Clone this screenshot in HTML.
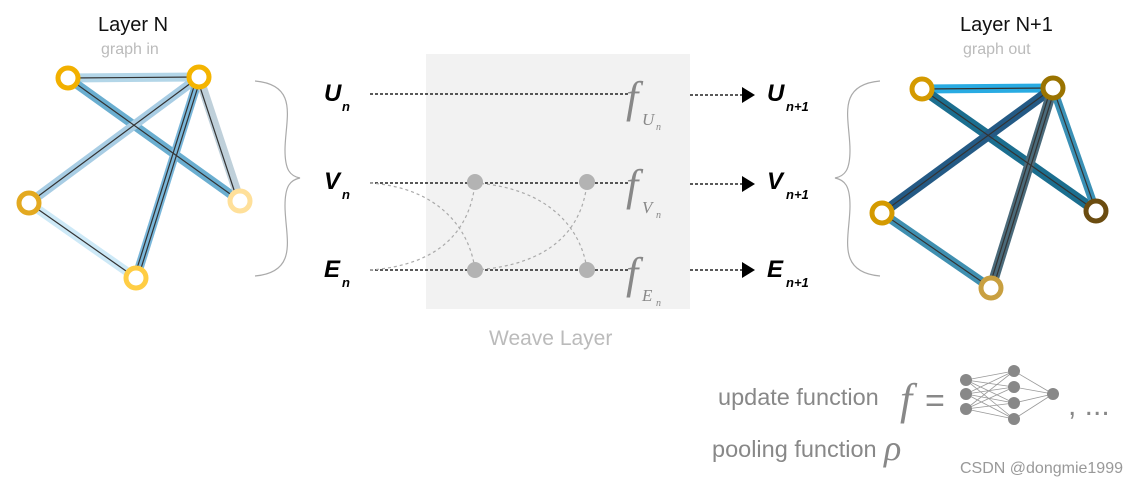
<!DOCTYPE html>
<html><head><meta charset="utf-8"><style>
html,body{margin:0;padding:0;background:#fff;}
svg{display:block;}
.s{font-family:"Liberation Sans",sans-serif;}
.m{font-family:"Liberation Serif","DejaVu Serif",serif;font-style:italic;}
</style></head><body>
<svg width="1142" height="486" viewBox="0 0 1142 486" xmlns="http://www.w3.org/2000/svg">
<!-- Left graph -->
<text class="s" x="98" y="31" font-size="20" fill="#111">Layer N</text>
<text class="s" x="101" y="54" font-size="16" fill="#bbb">graph in</text>
<g stroke-linecap="butt">
<line x1="68" y1="78" x2="199" y2="77" stroke="#b3d6e8" stroke-width="9"/>
<line x1="68" y1="78" x2="240" y2="201" stroke="#6aaed0" stroke-width="9"/>
<line x1="29" y1="203" x2="199" y2="77" stroke="#a8cde4" stroke-width="9"/>
<line x1="199" y1="77" x2="136" y2="278" stroke="#7ab7da" stroke-width="9"/>
<line x1="199" y1="77" x2="240" y2="201" stroke="#bfd0da" stroke-width="9"/>
<line x1="29" y1="203" x2="136" y2="278" stroke="#cde9f7" stroke-width="9"/>
</g>
<g stroke="#333" stroke-width="1.2">
<line x1="68" y1="78" x2="199" y2="77"/><line x1="68" y1="78" x2="240" y2="201"/>
<line x1="29" y1="203" x2="199" y2="77"/><line x1="197" y1="77" x2="134" y2="278"/><line x1="201" y1="77" x2="138" y2="278"/>
<line x1="197" y1="78" x2="238" y2="202"/><line x1="29" y1="203" x2="136" y2="278"/>
</g>
<g fill="#fff" stroke-width="5">
<circle cx="68" cy="78" r="10" stroke="#f2b000"/>
<circle cx="199" cy="77" r="10" stroke="#f4b400"/>
<circle cx="240" cy="201" r="10" stroke="#ffe09a"/>
<circle cx="29" cy="203" r="10" stroke="#e3a920"/>
<circle cx="136" cy="278" r="10" stroke="#ffcd44"/>
</g>
<path d="M255,81 C300,85 285,120 285,150 C285,170 290,176 300,178 C290,180 285,186 285,206 C285,236 300,272 255,276" fill="none" stroke="#aaa" stroke-width="1.2"/>

<!-- Weave layer -->
<rect x="426" y="54" width="264" height="255" fill="#f2f2f2"/>
<g stroke="#222" stroke-width="1.5" stroke-dasharray="3,2">
<line x1="370" y1="94" x2="628" y2="94"/>
<line x1="370" y1="183" x2="628" y2="183"/>
<line x1="370" y1="270" x2="628" y2="270"/>
<line x1="690" y1="95" x2="742" y2="95"/>
<line x1="690" y1="184" x2="742" y2="184"/>
<line x1="690" y1="270" x2="742" y2="270"/>
</g>
<g stroke="#aaa" stroke-width="1.2" stroke-dasharray="3,3" fill="none">
<path d="M370,183 C440,188 470,230 475,270"/>
<path d="M370,270 C440,265 470,230 475,183"/>
<path d="M475,183 C550,188 582,230 587,270"/>
<path d="M475,270 C550,265 582,230 587,183"/>
</g>
<g fill="#b3b3b3">
<circle cx="475" cy="182" r="8"/><circle cx="587" cy="182" r="8"/>
<circle cx="475" cy="270" r="8"/><circle cx="587" cy="270" r="8"/>
</g>
<g fill="#000">
<polygon points="742,87 755,95 742,103"/>
<polygon points="742,176 755,184 742,192"/>
<polygon points="742,262 755,270 742,278"/>
</g>
<g fill="#888">
<text class="m" x="626" y="112" font-size="44">f</text><text class="m" x="642" y="125" font-size="17">U</text><text class="m" x="656" y="130" font-size="10">n</text>
<text class="m" x="626" y="200" font-size="44">f</text><text class="m" x="642" y="213" font-size="17">V</text><text class="m" x="656" y="218" font-size="10">n</text>
<text class="m" x="626" y="288" font-size="44">f</text><text class="m" x="642" y="301" font-size="17">E</text><text class="m" x="656" y="306" font-size="10">n</text>
</g>
<g fill="#000">
<text class="s" font-weight="bold" font-style="italic" x="324" y="101" font-size="24">U</text><text class="s" font-weight="bold" font-style="italic" x="342" y="111" font-size="13">n</text>
<text class="s" font-weight="bold" font-style="italic" x="324" y="189" font-size="24">V</text><text class="s" font-weight="bold" font-style="italic" x="342" y="199" font-size="13">n</text>
<text class="s" font-weight="bold" font-style="italic" x="324" y="277" font-size="24">E</text><text class="s" font-weight="bold" font-style="italic" x="342" y="287" font-size="13">n</text>
<text class="s" font-weight="bold" font-style="italic" x="767" y="101" font-size="24">U</text><text class="s" font-weight="bold" font-style="italic" x="786" y="111" font-size="13">n+1</text>
<text class="s" font-weight="bold" font-style="italic" x="767" y="189" font-size="24">V</text><text class="s" font-weight="bold" font-style="italic" x="786" y="199" font-size="13">n+1</text>
<text class="s" font-weight="bold" font-style="italic" x="767" y="277" font-size="24">E</text><text class="s" font-weight="bold" font-style="italic" x="786" y="287" font-size="13">n+1</text>
</g>
<text class="s" x="489" y="345" font-size="21" fill="#bbb">Weave Layer</text>

<!-- Right graph -->
<text class="s" x="960" y="31" font-size="20" fill="#111">Layer N+1</text>
<text class="s" x="963" y="54" font-size="16" fill="#bbb">graph out</text>
<path d="M880,81 C835,85 850,120 850,150 C850,170 845,176 835,178 C845,180 850,186 850,206 C850,236 835,272 880,276" fill="none" stroke="#aaa" stroke-width="1.2"/>
<g>
<line x1="922" y1="89" x2="1053" y2="88" stroke="#29abe2" stroke-width="9"/>
<line x1="922" y1="89" x2="1096" y2="211" stroke="#1b6e8f" stroke-width="10"/>
<line x1="882" y1="213" x2="1053" y2="88" stroke="#245a85" stroke-width="10"/>
<line x1="1053" y1="88" x2="991" y2="288" stroke="#4a6a7a" stroke-width="10"/>
<line x1="1053" y1="88" x2="1096" y2="211" stroke="#3a90b5" stroke-width="8"/>
<line x1="882" y1="213" x2="991" y2="288" stroke="#3f8fb0" stroke-width="9"/>
</g>
<g stroke="#333" stroke-width="1.2">
<line x1="922" y1="89" x2="1053" y2="88"/><line x1="922" y1="89" x2="1096" y2="211"/>
<line x1="882" y1="213" x2="1053" y2="88"/><line x1="1051" y1="88" x2="989" y2="288"/><line x1="1055" y1="88" x2="993" y2="288"/>
<line x1="1053" y1="88" x2="1096" y2="211"/><line x1="882" y1="213" x2="991" y2="288"/>
</g>
<g fill="#fff" stroke-width="5">
<circle cx="922" cy="89" r="10" stroke="#d49a00"/>
<circle cx="1053" cy="88" r="10" stroke="#9a7300"/>
<circle cx="1096" cy="211" r="10" stroke="#6b4c10"/>
<circle cx="882" cy="213" r="10" stroke="#d49a00"/>
<circle cx="991" cy="288" r="10" stroke="#c9a040"/>
</g>

<!-- Legend -->
<text class="s" x="718" y="405" font-size="23.5" fill="#888">update function</text>
<text class="m" x="900" y="414" font-size="44" fill="#888">f</text>
<text class="s" x="925" y="412" font-size="34" fill="#888">=</text>
<g stroke="#999" stroke-width="0.8">
<line x1="966" y1="380" x2="1014" y2="371"/><line x1="966" y1="380" x2="1014" y2="387"/><line x1="966" y1="380" x2="1014" y2="403"/><line x1="966" y1="380" x2="1014" y2="419"/>
<line x1="966" y1="394" x2="1014" y2="371"/><line x1="966" y1="394" x2="1014" y2="387"/><line x1="966" y1="394" x2="1014" y2="403"/><line x1="966" y1="394" x2="1014" y2="419"/>
<line x1="966" y1="409" x2="1014" y2="371"/><line x1="966" y1="409" x2="1014" y2="387"/><line x1="966" y1="409" x2="1014" y2="403"/><line x1="966" y1="409" x2="1014" y2="419"/>
<line x1="1014" y1="371" x2="1053" y2="394"/><line x1="1014" y1="387" x2="1053" y2="394"/><line x1="1014" y1="403" x2="1053" y2="394"/><line x1="1014" y1="419" x2="1053" y2="394"/>
</g>
<g fill="#888">
<circle cx="966" cy="380" r="6"/><circle cx="966" cy="394" r="6"/><circle cx="966" cy="409" r="6"/>
<circle cx="1014" cy="371" r="6"/><circle cx="1014" cy="387" r="6"/><circle cx="1014" cy="403" r="6"/><circle cx="1014" cy="419" r="6"/>
<circle cx="1053" cy="394" r="6"/>
</g>
<text class="s" x="1068" y="415" font-size="30" fill="#888">, ...</text>
<text class="s" x="712" y="457" font-size="23.5" fill="#888">pooling function</text>
<text class="m" x="884" y="460" font-size="36" fill="#888">ρ</text>
<text class="s" x="960" y="473" font-size="16" fill="#999">CSDN @dongmie1999</text>
</svg>
</body></html>
